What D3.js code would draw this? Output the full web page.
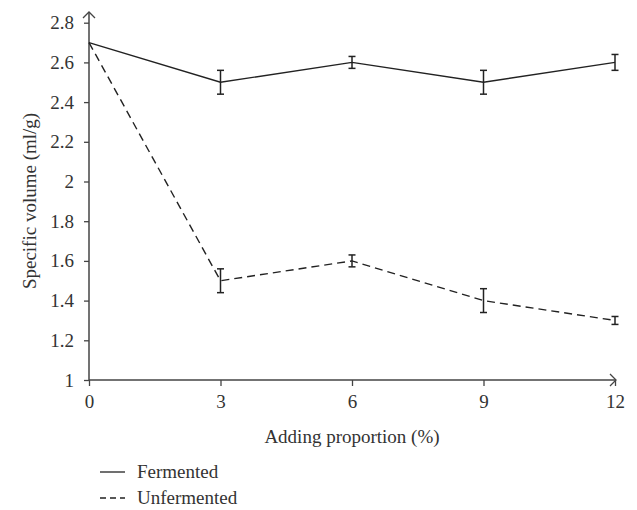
<!DOCTYPE html>
<html>
<head>
<meta charset="utf-8">
<script src="https://d3js.org/d3.v7.min.js"></script>
<style>
  body { margin: 0; background: #fff; }
  text { font-family: "Liberation Serif", "DejaVu Serif", serif; fill: #333; }
</style>
</head>
<body>
<script>
var proportions = [0, 3, 6, 9, 12];
var fermented = [2.7, 2.5, 2.6, 2.5, 2.6];
var fermentedErr = [0, 0.06, 0.03, 0.06, 0.04];
var unfermented = [2.7, 1.5, 1.6, 1.4, 1.3];
var unfermentedErr = [0, 0.06, 0.03, 0.06, 0.02];
var yTicks = [1, 1.2, 1.4, 1.6, 1.8, 2, 2.2, 2.4, 2.6, 2.8];
var seriesNames = ['Fermented', 'Unfermented'];

var width = 637, height = 510;
var fs = '19px';
var svg = d3.select('body').append('svg').attr('width', width).attr('height', height);

var x = d3.scaleLinear().domain([0, 12]).range([89, 615]);
var y = d3.scaleLinear().domain([1, 2.8]).range([380, 22.7]);
var axisColor = '#444', lineColor = '#222';

// y axis
var yAxis = d3.axisLeft(y).tickValues(yTicks).tickSize(5).tickPadding(10)
  .tickFormat(function(d) { return d3.format('')(+d.toFixed(1)); });
var gy = svg.append('g').attr('transform', 'translate(' + x(0) + ',0)').call(yAxis);
gy.select('.domain').remove();
gy.selectAll('line').attr('stroke', axisColor).attr('stroke-width', 1.3);
gy.selectAll('text').style('font-size', fs).attr('fill', '#333');
svg.append('line').attr('x1', x(0)).attr('x2', x(0)).attr('y1', 380).attr('y2', 12)
  .attr('stroke', axisColor).attr('stroke-width', 1.5);
svg.append('path').attr('d', 'M' + (x(0) - 6) + ',18L' + x(0) + ',12L' + (x(0) + 6) + ',18')
  .attr('fill', 'none').attr('stroke', axisColor).attr('stroke-width', 1.3);

// x axis
var xAxis = d3.axisBottom(x).tickValues(proportions).tickSize(6).tickPadding(9);
var gx = svg.append('g').attr('transform', 'translate(0,380)').call(xAxis);
gx.select('.domain').remove();
gx.selectAll('line').attr('stroke', axisColor).attr('stroke-width', 1.3);
gx.selectAll('text').style('font-size', fs).attr('fill', '#333');
svg.append('line').attr('x1', x(0)).attr('x2', 616).attr('y1', 380).attr('y2', 380)
  .attr('stroke', axisColor).attr('stroke-width', 1.5);
svg.append('path').attr('d', 'M610,374L616,380L610,386')
  .attr('fill', 'none').attr('stroke', axisColor).attr('stroke-width', 1.3);

// axis titles
svg.append('text').attr('transform', 'translate(36,201) rotate(-90)')
  .attr('text-anchor', 'middle').style('font-size', fs).text('Specific volume (ml/g)');
svg.append('text').attr('x', 352).attr('y', 443)
  .attr('text-anchor', 'middle').style('font-size', fs).text('Adding proportion (%)');

// series
var line = d3.line().x(function(d) { return x(d.p); }).y(function(d) { return y(d.v); });
var series = [
  { name: seriesNames[0], vals: fermented, errs: fermentedErr, dash: null },
  { name: seriesNames[1], vals: unfermented, errs: unfermentedErr, dash: '8,5' }
];
series.forEach(function(s) {
  var pts = proportions.map(function(p, i) { return { p: p, v: s.vals[i], e: s.errs[i] }; });
  svg.append('path').datum(pts).attr('d', line).attr('fill', 'none')
    .attr('stroke', lineColor).attr('stroke-width', 1.4).attr('stroke-dasharray', s.dash);
  var eb = svg.append('g').selectAll('g').data(pts.filter(function(d) { return d.e > 0; }))
    .enter().append('g').attr('stroke', lineColor).attr('stroke-width', 1.5);
  eb.append('line').attr('x1', function(d) { return x(d.p); }).attr('x2', function(d) { return x(d.p); })
    .attr('y1', function(d) { return y(d.v + d.e); }).attr('y2', function(d) { return y(d.v - d.e); });
  eb.append('line').attr('x1', function(d) { return x(d.p) - 3.5; }).attr('x2', function(d) { return x(d.p) + 3.5; })
    .attr('y1', function(d) { return y(d.v + d.e); }).attr('y2', function(d) { return y(d.v + d.e); });
  eb.append('line').attr('x1', function(d) { return x(d.p) - 3.5; }).attr('x2', function(d) { return x(d.p) + 3.5; })
    .attr('y1', function(d) { return y(d.v - d.e); }).attr('y2', function(d) { return y(d.v - d.e); });
});

// legend
var legend = svg.append('g').selectAll('g').data(series).enter().append('g')
  .attr('transform', function(d, i) { return 'translate(100,' + (472 + i * 26) + ')'; });
legend.append('line').attr('x1', 0).attr('x2', 25).attr('y1', 0).attr('y2', 0)
  .attr('stroke', lineColor).attr('stroke-width', 1.3)
  .attr('stroke-dasharray', function(d) { return d.dash ? '6,4' : null; });
legend.append('text').attr('x', 37).attr('y', 6).style('font-size', fs)
  .text(function(d) { return d.name; });
</script>
</body>
</html>
